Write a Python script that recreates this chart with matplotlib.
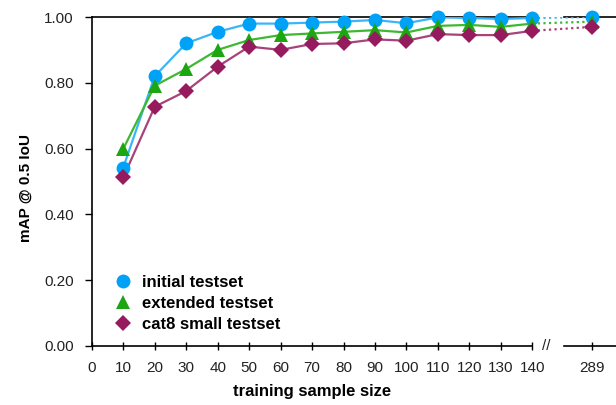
import matplotlib
matplotlib.use("Agg")
import matplotlib.pyplot as plt
import numpy as np

plt.rcParams['font.family'] = ['Liberation Sans', 'DejaVu Sans']

sizes = [10, 20, 30, 40, 50, 60, 70, 80, 90, 100, 110, 120, 130, 140]
last_size_label = "289"
last_pos = 159  # position of the 289 point on the broken axis

initial = [0.542, 0.820, 0.920, 0.955, 0.980, 0.980, 0.983, 0.986, 0.991, 0.981, 0.999, 0.997, 0.994, 0.997]
initial_last = 1.000
extended = [0.599, 0.791, 0.842, 0.900, 0.930, 0.945, 0.950, 0.955, 0.960, 0.953, 0.973, 0.976, 0.970, 0.980]
extended_last = 0.986
cat8 = [0.512, 0.727, 0.775, 0.849, 0.910, 0.900, 0.918, 0.920, 0.932, 0.928, 0.948, 0.945, 0.945, 0.958]
cat8_last = 0.970

series = [
    ("initial testset", initial, initial_last, "#00A2F8", "#3BB5FA", "o", 10),
    ("extended testset", extended, extended_last, "#1EA512", "#3DB832", "^", 10),
    ("cat8 small testset", cat8, cat8_last, "#951B5E", "#A8437A", "D", 8),
]

fig = plt.figure(figsize=(6.16, 4.05), dpi=100)
ax = fig.add_axes([0.149, 0.146, 0.851, 0.812])

handles = []
for name, vals, last, mc, lc, mk, ms in series:
    ax.plot(sizes, vals, color=lc, lw=1.6, zorder=3)
    ax.plot([sizes[-1], last_pos], [vals[-1], last], color=lc, lw=1.6, ls=(0, (1, 1.5)), zorder=3)
    h, = ax.plot(sizes + [last_pos], vals + [last], ls='none', marker=mk, ms=ms,
                 color=mc, markeredgewidth=0, clip_on=False, zorder=4)
    handles.append((h, name))

xmax = 166.6
ax.set_xlim(0, xmax)
ax.set_ylim(0, 1.0)

ax.spines['right'].set_visible(False)
for s in ['bottom', 'top']:
    ax.spines[s].set_bounds(0, 140)
    ax.spines[s].set_linewidth(1.2)
ax.spines['left'].set_linewidth(1.2)
# resumed axis segments after the break
ax.plot([150, xmax], [0, 0], color='black', lw=1.2, clip_on=False, zorder=2)
ax.plot([150, xmax], [1, 1], color='black', lw=1.2, clip_on=False, zorder=2)
ax.text(144.3, 0, "//", ha='center', va='center', fontsize=11, color='#222222')

ax.set_yticks(np.arange(0, 1.01, 0.2))
ax.set_yticklabels([f"{v:.2f}" for v in np.arange(0, 1.01, 0.2)])
xt = [0] + sizes + [last_pos]
ax.set_xticks(xt)
ax.set_xticklabels([str(v) for v in [0] + sizes] + [last_size_label])
ax.tick_params(axis='y', direction='out', length=5, width=1, labelsize=11, pad=8, colors='black')
ax.tick_params(axis='x', direction='inout', length=6, width=1, labelsize=11, pad=8, colors='black')
for lab in ax.get_xticklabels() + ax.get_yticklabels():
    lab.set_color('#222222')

ax.set_ylabel("mAP @ 0.5 IoU", fontsize=11, fontweight='bold')
ax.yaxis.set_label_coords(-0.113, 0.48)
ax.set_xlabel("training sample size", fontsize=12, fontweight='bold')
ax.xaxis.set_label_coords(0.42, -0.115)

leg = ax.legend([h for h, _ in handles], [n for _, n in handles], loc='upper left',
                bbox_to_anchor=(0.04, 0.215), frameon=False,
                prop={'weight': 'bold', 'size': 12}, handlelength=1.2,
                handletextpad=0.55, labelspacing=0.36, borderaxespad=0.0,
                borderpad=0.0)

fig.savefig("out.png", dpi=100)
